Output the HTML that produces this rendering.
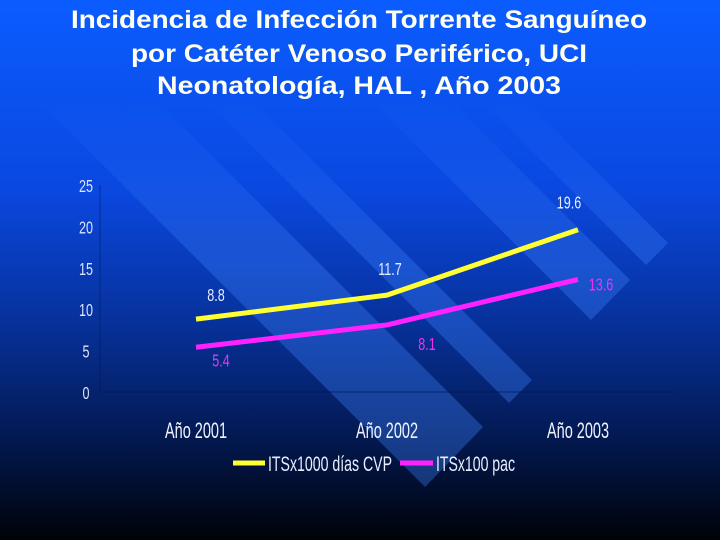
<!DOCTYPE html>
<html><head><meta charset="utf-8"><style>
html,body{margin:0;padding:0;width:720px;height:540px;overflow:hidden;background:#000}
svg{display:block}
text{font-family:"Liberation Sans",Arial,sans-serif}
</style></head><body>
<svg id="chart" width="720" height="540" viewBox="0 0 720 540" xmlns="http://www.w3.org/2000/svg">
<defs>
<linearGradient id="bg" x1="0" y1="0" x2="0" y2="1">
<stop offset="0" stop-color="#0b5cff"/>
<stop offset="0.35" stop-color="#0a48e0"/>
<stop offset="0.6" stop-color="#07319a"/>
<stop offset="0.8" stop-color="#031a55"/>
<stop offset="1" stop-color="#000208"/>
</linearGradient>
<linearGradient id="sg" gradientUnits="userSpaceOnUse" x1="0" y1="100" x2="0" y2="260">
<stop offset="0" stop-color="rgb(60,130,255)" stop-opacity="0"/>
<stop offset="1" stop-color="rgb(60,130,255)" stop-opacity="0.35"/>
</linearGradient>
</defs>
<rect width="720" height="540" fill="url(#bg)"/>
<g id="stripes"></g>
<g fill="#fffff0" font-weight="bold" font-size="25" text-anchor="middle">
<text x="359" y="28" textLength="576" lengthAdjust="spacingAndGlyphs">Incidencia de Infección Torrente Sanguíneo</text>
<text x="359" y="62" textLength="456" lengthAdjust="spacingAndGlyphs">por Catéter Venoso Periférico, UCI</text>
<text x="359" y="94" textLength="404" lengthAdjust="spacingAndGlyphs">Neonatología,  HAL , Año 2003</text>
</g>
<g id="axes"></g>
<g id="series"></g>
<g id="legend">
<line x1="233" y1="463" x2="265" y2="463" stroke="#ffff33" stroke-width="5"/>
<text x="268" y="471" font-size="21" fill="#e8eeff" textLength="124" lengthAdjust="spacingAndGlyphs">ITSx1000 días CVP</text>
<line x1="400" y1="463" x2="433" y2="463" stroke="#ff22ff" stroke-width="5"/>
<text x="436" y="471" font-size="21" fill="#e8eeff" textLength="79" lengthAdjust="spacingAndGlyphs">ITSx100 pac</text>
</g>
</svg>
<script>
const categories = ["Año 2001","Año 2002","Año 2003"];
const cvpValues = [8.8, 11.7, 19.6];
const pacValues = [5.4, 8.1, 13.6];
const yTicks = [0,5,10,15,20,25];

const NS="http://www.w3.org/2000/svg";
const svg=document.getElementById('chart');
function mk(tag,attrs,parent){const e=document.createElementNS(NS,tag);for(const k in attrs)e.setAttribute(k,attrs[k]);parent.appendChild(e);return e;}
const y0=392, pxPer=(392-185)/25;
function yScale(v){return y0-v*pxPer;}
function xScale(i){return 196+i*191;}

const stripes=document.getElementById('stripes');
[[425,487,483,427],[509,403,532,380],[591,320,630,280],[646,265,668,243]].forEach(s=>{
  const L=500;
  const p=mk('polygon',{points:`${s[0]},${s[1]} ${s[2]},${s[3]} ${s[2]-L},${s[3]-L} ${s[0]-L},${s[1]-L}`,fill:'url(#sg)'},stripes);
  
  
});

const axes=document.getElementById('axes');
const ax=mk('line',{x1:100,y1:185,x2:100,y2:392,stroke:'rgba(0,20,80,0.5)','stroke-width':1},axes);


const bx=mk('line',{x1:100,y1:392,x2:675,y2:392,stroke:'rgba(0,20,80,0.6)','stroke-width':1},axes);


yTicks.forEach(t=>{
  const tx=mk('text',{x:86,y:yScale(t)+7,'font-size':18,fill:'#dde4ff','text-anchor':'middle',transform:`translate(86,0) scale(0.7,1) translate(-86,0)`},axes);
  tx.textContent=t;
  
  
});
categories.forEach((c,i)=>{
  const tx=mk('text',{x:xScale(i),y:438,'font-size':22,fill:'#f0f4ff','text-anchor':'middle',textLength:62,lengthAdjust:'spacingAndGlyphs'},axes);
  tx.textContent=c;
  
  
});

const series=document.getElementById('series');
function drawLine(vals,color,name){
  const pts=vals.map((v,i)=>xScale(i)+','+yScale(v)).join(' ');
  const pl=mk('polyline',{points:pts,fill:'none',stroke:color,'stroke-width':5,'stroke-linejoin':'round'},series);
  
  
}
drawLine(cvpValues,'#ffff33','line-cvp');
drawLine(pacValues,'#ff22ff','line-pac');
const cvpOff=[[20,-18],[3,-20],[-9,-21]];
const pacOff=[[25,19],[40,25],[23,11]];
function labels(vals,off,color,name){
  vals.forEach((v,i)=>{
    const x=xScale(i)+off[i][0], y=yScale(v)+off[i][1];
    const tx=mk('text',{x:x,y:y,'font-size':18,fill:color,'text-anchor':'middle',transform:`translate(${x},0) scale(0.7,1) translate(${-x},0)`},series);
    tx.textContent=v.toFixed(1);
    
    
  });
}
labels(cvpValues,cvpOff,'#e8eeff','data-label-cvp');
labels(pacValues,pacOff,'#ee33ee','data-label-pac');
</script>
</body></html>
